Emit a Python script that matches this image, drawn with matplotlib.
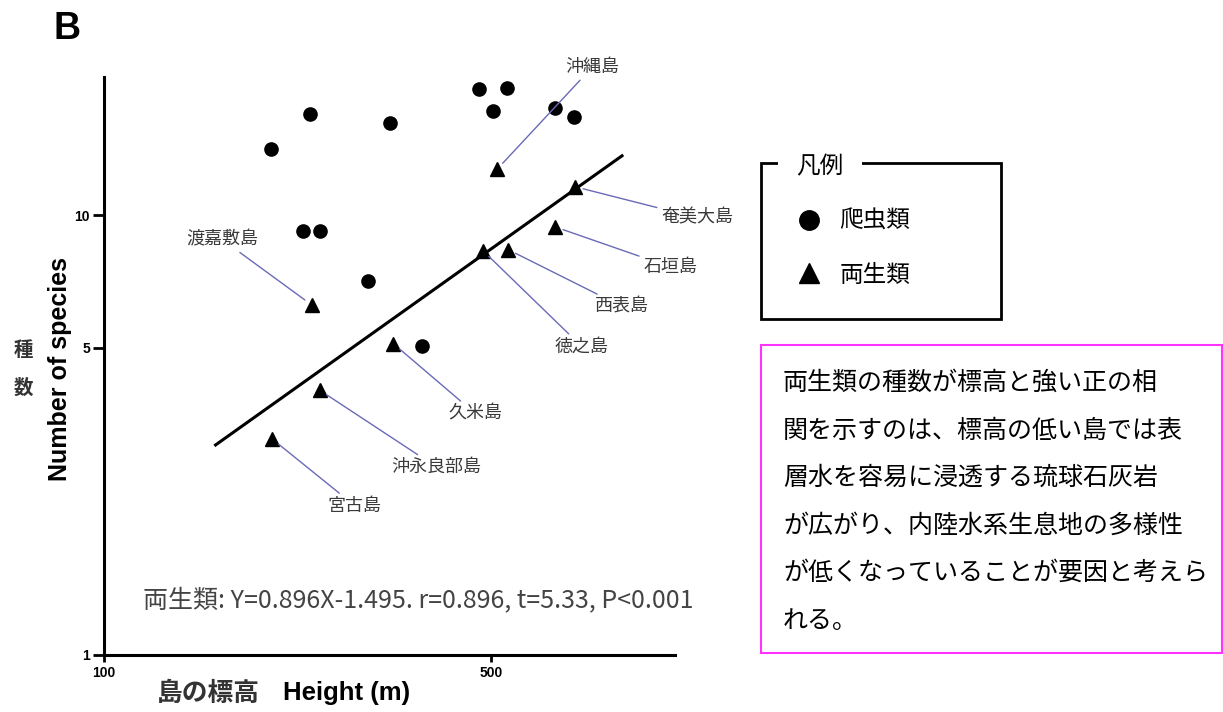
import numpy as np
import matplotlib.pyplot as plt
from matplotlib.lines import Line2D
from matplotlib.patches import Rectangle

plt.rcParams['font.family'] = ['Noto Sans CJK JP', 'DejaVu Sans']

W, H = 1223, 712

# reptiles (circles): island height (m) vs number of species
rep_height = [200, 235, 328, 229, 245, 300, 476, 533, 503, 652, 706, 375]
rep_species = [14.1, 17.0, 16.2, 9.2, 9.2, 7.1, 19.3, 19.4, 17.2, 17.5, 16.7, 5.05]

# amphibians (triangles)
amp_islands = ['渡嘉敷島', '沖縄島', '奄美大島', '石垣島', '徳之島',
               '西表島', '久米島', '沖永良部島', '宮古島']
amp_height = [237, 512, 708, 652, 483, 536, 333, 245, 201]
amp_species = [6.25, 12.7, 11.6, 9.4, 8.3, 8.35, 5.1, 4.0, 3.1]

# regression line for amphibians, log10(Y) = a*log10(X) + b
reg_a, reg_b = 0.896, -1.495
reg_x = np.array([159, 861])

eq_text = '両生類: Y=0.896X-1.495. r=0.896, t=5.33, P<0.001'
legend_labels = ['爬虫類', '両生類']
note_lines = ['両生類の種数が標高と強い正の相',
              '関を示すのは、標高の低い島では表',
              '層水を容易に浸透する琉球石灰岩',
              'が広がり、内陸水系生息地の多様性',
              'が低くなっていることが要因と考えら',
              'れる。']

# label offsets from each triangle, in pixels (dx, dy up)
label_off = [(-89, 65), (95, 102), (122, -31), (115, -40), (99, -96),
             (114, -57), (82, -70), (117, -77), (83, -67)]


def fx(px):
    return px / W


def fy(py):
    return 1 - py / H


fig = plt.figure(figsize=(W / 100, H / 100), dpi=100)
ax = fig.add_axes([fx(104), fy(655), (675 - 104) / W, (655 - 77) / H])
ax.set_xscale('log')
ax.set_yscale('log')
ax.set_xlim(100, 1073)
ax.set_ylim(1, 20.6)

ax.plot(rep_height, rep_species, 'o', color='black', ms=9.5, ls='')
ax.plot(amp_height, amp_species, '^', color='black', ms=10.5, ls='')
reg_y = 10 ** (reg_a * np.log10(reg_x) + reg_b)
ax.plot(reg_x, reg_y, color='black', lw=2.2)

for name, x, y, off in zip(amp_islands, amp_height, amp_species, label_off):
    ax.annotate(name, xy=(x, y), xytext=off, textcoords='offset pixels',
                ha='center', va='center', fontsize=13, color='#3a3a3a',
                arrowprops=dict(arrowstyle='-', color='#6a6ab8', lw=1,
                                shrinkA=1, shrinkB=6))

for s in ['top', 'right']:
    ax.spines[s].set_visible(False)
for s in ['left', 'bottom']:
    ax.spines[s].set_linewidth(2.2)

ax.minorticks_off()
ax.set_xticks([100, 500])
ax.set_xticklabels(['100', '500'])
ax.set_yticks([1, 5, 10])
ax.set_yticklabels(['1', '5', '10'])
ax.tick_params(axis='y', direction='out', length=8, width=2, pad=2, labelsize=10)
ax.tick_params(axis='x', direction='out', length=5, width=2, pad=3, labelsize=10)
for lbl in ax.get_xticklabels() + ax.get_yticklabels():
    lbl.set_fontweight('bold')
    lbl.set_family('Liberation Sans')

# equation
fig.text(fx(143), fy(600), eq_text, fontsize=18, color='#444444', va='center')

# axis labels
fig.text(fx(157), fy(693), '島の標高', fontsize=18.5, color='#333333',
         fontweight='bold', va='center')
fig.text(fx(283), fy(693), 'Height (m)', fontsize=18.5, fontweight='bold',
         family='Liberation Sans', va='center')
fig.text(fx(60), fy(369), 'Number of species', rotation=90, ha='center',
         va='center', fontsize=18, fontweight='bold', family='Liberation Sans')
fig.text(fx(23), fy(350), '種', fontsize=14, color='#333333', ha='center',
         va='center', fontweight='bold')
fig.text(fx(23), fy(388), '数', fontsize=14, color='#333333', ha='center',
         va='center', fontweight='bold')
fig.text(fx(53), fy(29), 'B', fontsize=27, fontweight='bold',
         family='Liberation Sans', va='center', ha='left')

# legend box
fig.add_artist(Rectangle((fx(761), fy(319)), (1001 - 761) / W, (319 - 163) / H,
                         transform=fig.transFigure, fill=False, ec='black', lw=2))
fig.text(fx(820), fy(167), '凡例', ha='center', va='center', fontsize=17,
         bbox=dict(fc='white', ec='none', pad=13))
handles = [Line2D([], [], marker='o', ls='', color='black', ms=14, label=legend_labels[0]),
           Line2D([], [], marker='^', ls='', color='black', ms=15, label=legend_labels[1])]
fig.legend(handles=handles, loc='upper left', bbox_to_anchor=(fx(797), fy(210)),
           frameon=False, fontsize=17, handlelength=1, handletextpad=0.8,
           labelspacing=1.3, borderpad=0, borderaxespad=0)

# note box
fig.add_artist(Rectangle((fx(761), fy(653)), (1222 - 761) / W, (653 - 345) / H,
                         transform=fig.transFigure, fill=False, ec='#ff33ff', lw=1.5))
for i, line in enumerate(note_lines):
    fig.text(fx(783), fy(383 + i * 47.5), line, fontsize=18, va='center', ha='left')

fig.savefig('out.png', dpi=100)
